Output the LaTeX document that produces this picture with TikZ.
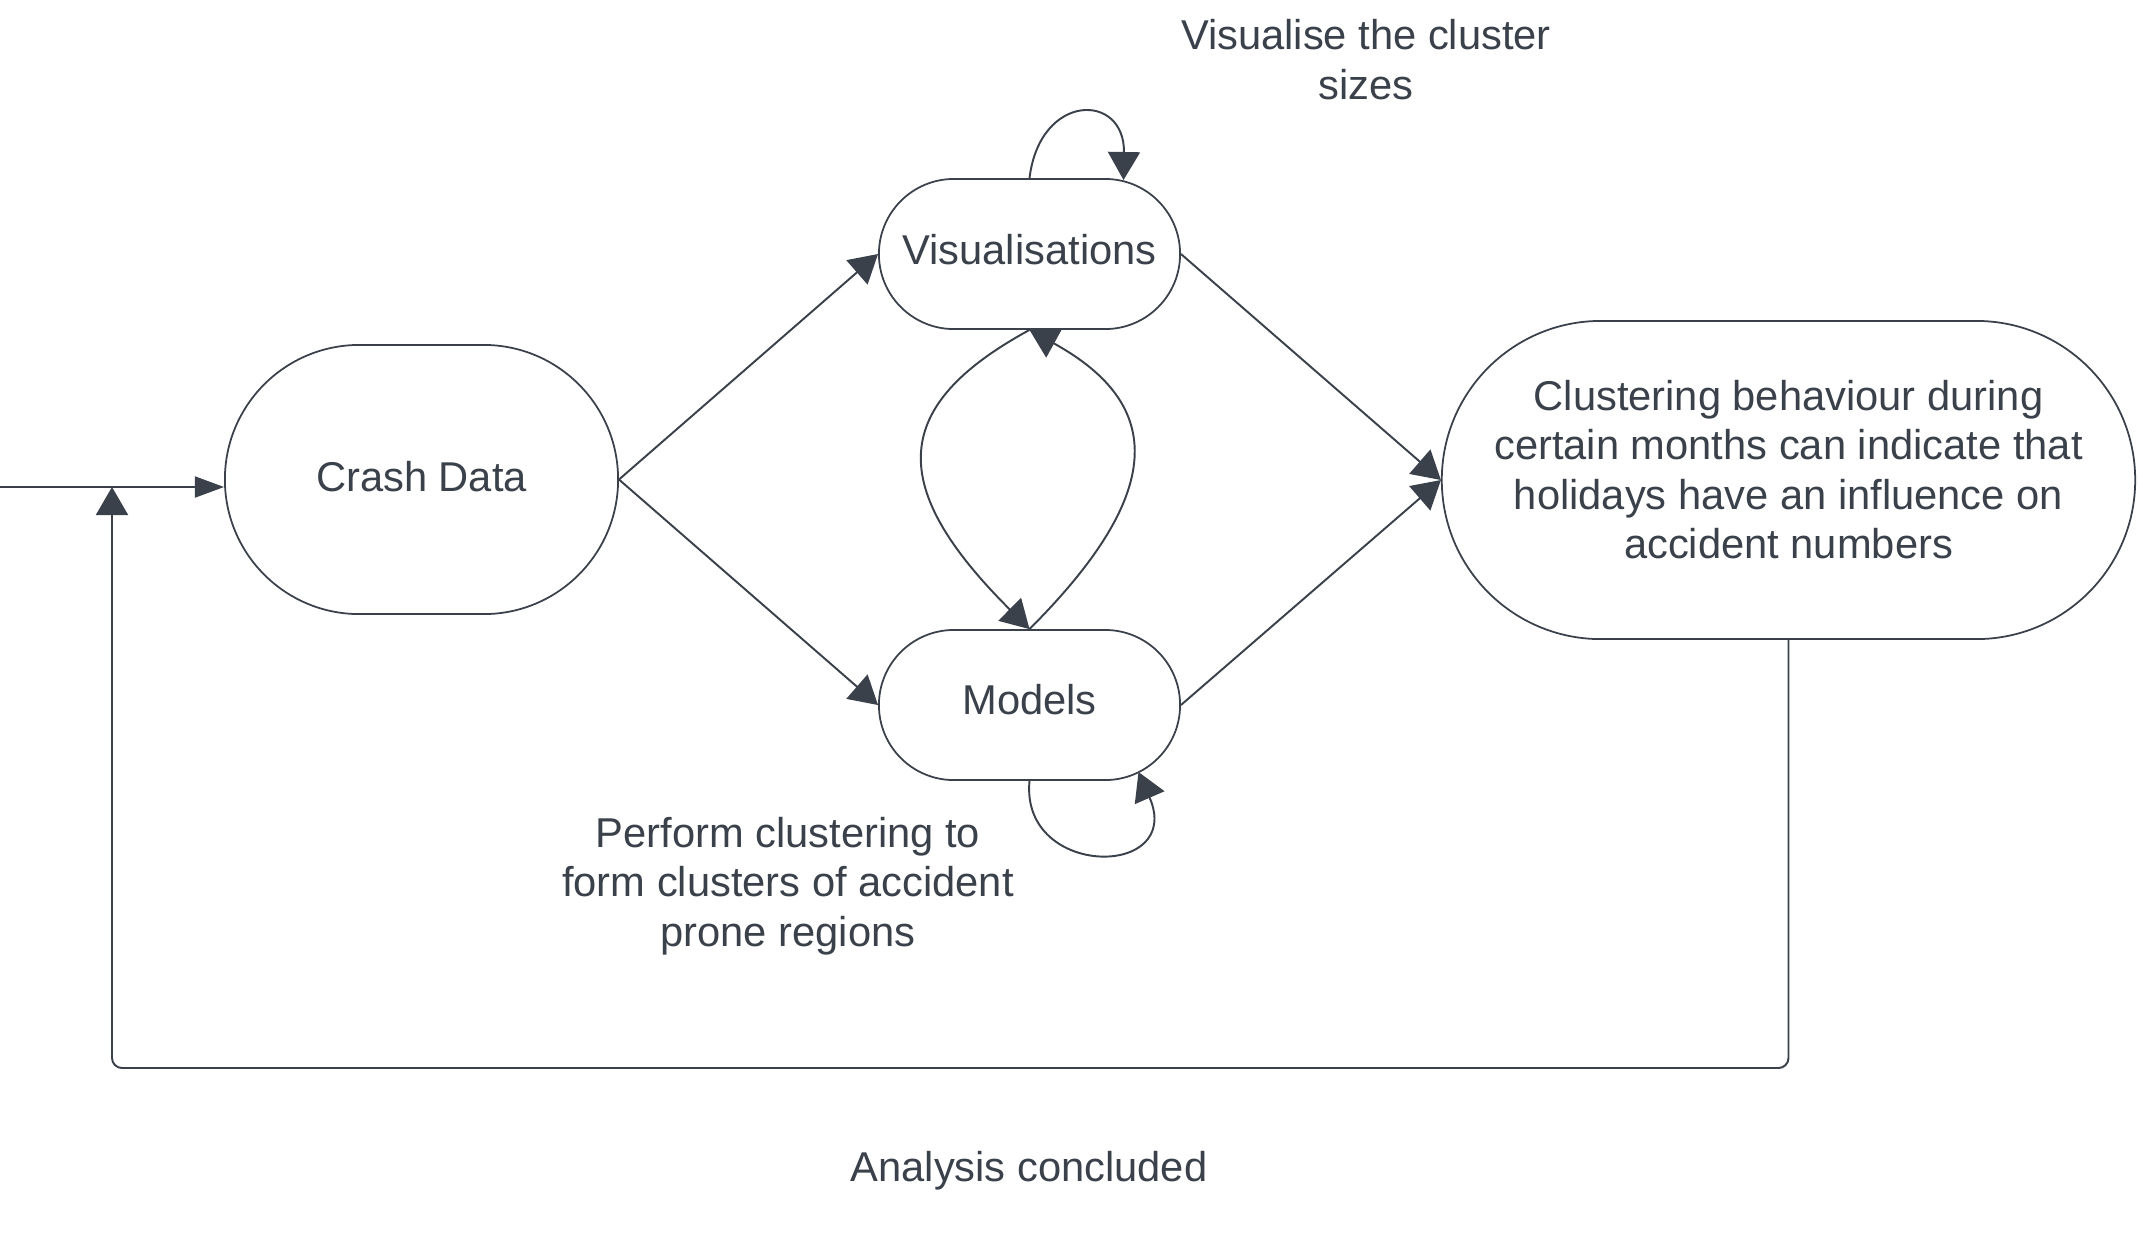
\documentclass[tikz,border=0pt]{standalone}
\usepackage{fontspec}
\setmainfont{Liberation Sans}
\usetikzlibrary{arrows.meta,calc}
\definecolor{ink}{HTML}{3A414A}
\begin{document}
\begin{tikzpicture}[x=0.01cm, y=-0.01cm,
  every node/.style={font=\fontsize{11.85pt}{14.1pt}\selectfont, text=ink},
  stadium/.style={draw=ink, line width=0.5pt, rectangle, inner sep=0pt, fill=white},
  lbl/.style={align=center, inner sep=0pt},
  conn/.style={draw=ink, line width=0.55pt, -{Triangle[length=0.28cm, width=0.32cm]}},
  connsmall/.style={draw=ink, line width=0.5pt, -{Triangle[length=0.29cm, width=0.21cm]}}
]
\path[use as bounding box, fill=white] (0,0) rectangle (2138,1256);

% nodes
\node[stadium, minimum width=3.93cm, minimum height=2.69cm, rounded corners=1.344cm,
      label={[lbl, yshift=0.03cm]center:Crash Data}] (crash) at (421.5,479.5) {};
\node[stadium, minimum width=3.01cm, minimum height=1.50cm, rounded corners=0.749cm,
      label={[lbl, yshift=0.045cm]center:Visualisations}] (vis) at (1029.5,254) {};
\node[stadium, minimum width=3.01cm, minimum height=1.50cm, rounded corners=0.749cm,
      label={[lbl, yshift=0.055cm]center:Models}] (models) at (1029.5,705) {};
\node[stadium, minimum width=6.93cm, minimum height=3.18cm, rounded corners=1.589cm,
      label={[lbl, yshift=0.103cm]center:{Clustering behaviour during\\certain months can indicate that\\holidays have an influence on\\accident numbers}}] (res) at (1788.5,480) {};

% free texts
\node[lbl] (tvis) at (1366,59.5) {Visualise the cluster\\sizes};
\node[lbl] (tmod) at (788,886) {Perform clustering to\\form clusters of accident\\prone regions};
\node[lbl] (tend) at (1029,1171) {Analysis concluded};

% coordinates
\coordinate (entry) at (0,487);
\coordinate (join) at (112,487);
\coordinate (fbl) at (112,1068);

% connectors
\draw[connsmall] (entry) -- (entry -| crash.west);
\draw[conn] (crash.east) -- (vis.west);
\draw[conn] (crash.east) -- (models.west);
\draw[conn] (vis.east) -- (res.west);
\draw[conn] (models.east) -- (res.west);

% self loops
\draw[conn] (vis.north) .. controls ($(vis.north)+(10.5,-86)$) and ($(vis.north)+(95.5,-86)$) .. ($(vis.center)+(94,-74)$);
\draw[conn] (models.south) .. controls ($(models.south)+(-9.5,98)$) and ($(models.south)+(155.5,98)$) .. ($(models.center)+(109,67)$);

% between visualisations and models
\draw[conn] (vis.south) .. controls ($(vis.south)+(-141.5,77)$) and ($(models.north)+(-141.5,-141)$) .. (models.north);
\draw[conn] (models.north) .. controls ($(models.north)+(136,-136)$) and ($(vis.south)+(136,75)$) .. (vis.south);

% feedback
\draw[conn, rounded corners=0.1cm] (res.south) |- (fbl) -- (join);
\end{tikzpicture}
\end{document}
